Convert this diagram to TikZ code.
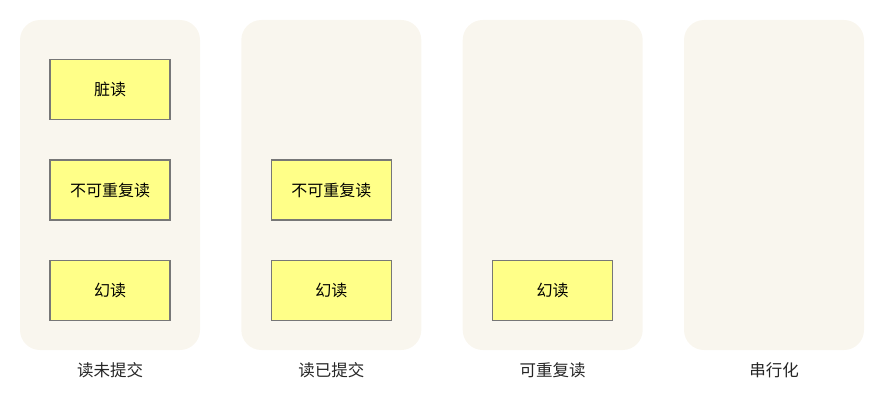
\documentclass[tikz,border=0pt]{standalone}
\usepackage{fontspec}
\setmainfont{Noto Sans CJK SC}
\usetikzlibrary{positioning}
\definecolor{cpanel}{HTML}{F9F6EE}
\definecolor{cyellow}{HTML}{FFFF88}
\definecolor{cborder}{HTML}{777777}

\begin{document}
\begin{tikzpicture}[x=1pt,y=-1pt,node distance=10pt,
  panel node/.style={rectangle,rounded corners=20pt,fill=cpanel,draw=none,
    minimum width=180pt,minimum height=330pt,inner sep=0pt},
  case node/.style={rectangle,fill=cyellow,draw=cborder,line width=1.1pt,
    minimum width=120pt,minimum height=60pt,font=\fontsize{16}{19}\selectfont},
  level node/.style={font=\fontsize{16.5}{19}\selectfont,text=black!85}]
  \useasboundingbox (0,0) rectangle (890,409);
  \node[panel node] (p1) at (110,185) {};
  \node[panel node] (p2) at (331.3,185) {};
  \node[panel node] (p3) at (552.7,185) {};
  \node[panel node] (p4) at (774,185) {};

  \node[case node] (dirty) at (110,89.5) {脏读};
  \node[case node] (nonrep1) at (110,190) {不可重复读};
  \node[case node] (phantom1) at (110,290.7) {幻读};
  \node[case node] (nonrep2) at (331.3,190) {不可重复读};
  \node[case node] (phantom2) at (331.3,290.7) {幻读};
  \node[case node] (phantom3) at (552.7,290.7) {幻读};

  \node[level node] (l1) at (110,370) {读未提交};
  \node[level node] (l2) at (331.3,370) {读已提交};
  \node[level node] (l3) at (552.7,370) {可重复读};
  \node[level node] (l4) at (774,370) {串行化};
\end{tikzpicture}
\end{document}
